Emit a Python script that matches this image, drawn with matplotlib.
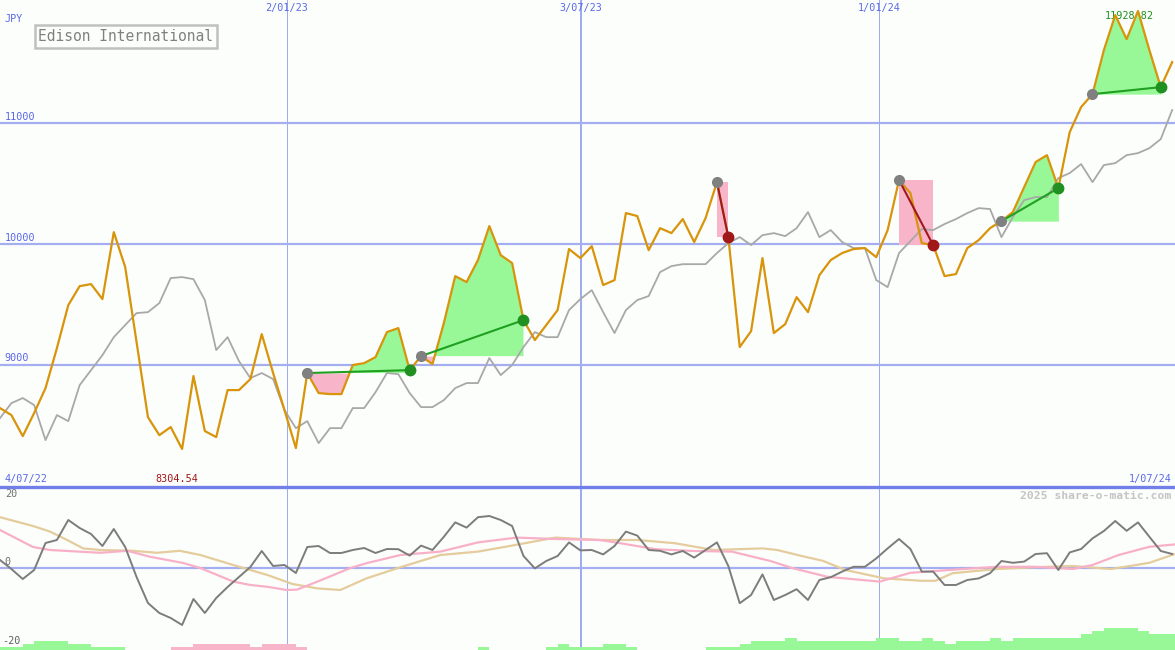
import numpy as np
import matplotlib.pyplot as plt
from matplotlib.transforms import blended_transform_factory
from matplotlib.lines import Line2D

# weekly closes (JPY), 4/07/22 .. 1/07/24
price = [8643, 8585, 8411, 8602, 8808, 9139, 9495, 9652, 9669, 9545,
         10099, 9810, 9189, 8568, 8419, 8486, 8304.54, 8908, 8453, 8403,
         8792, 8792, 8883, 9255, 8933, 8626, 8312, 8933, 8767, 8759,
         8759, 8999, 9015, 9065, 9272, 9305, 8957, 9073, 9007, 9346,
         9735, 9686, 9868, 10149, 9909, 9843, 9371, 9206, 9330, 9454,
         9959, 9884, 9983, 9661, 9702, 10257, 10232, 9950, 10132, 10091,
         10207, 10017, 10215, 10513, 10058, 9148, 9280, 9884, 9264, 9338,
         9561, 9437, 9743, 9868, 9926, 9959, 9967, 9892, 10116, 10530,
         10422, 10008, 9992, 9735, 9752, 9967, 10033, 10132, 10190, 10265,
         10472, 10679, 10736, 10463, 10927, 11134, 11241, 11605, 11895, 11696,
         11928.82, 11605, 11299, 11506]

# moving average (grey line)
avg = [8560, 8684, 8726, 8668, 8378, 8585, 8535, 8833, 8957, 9081,
       9230, 9330, 9429, 9437, 9512, 9719, 9727, 9710, 9537, 9123,
       9230, 9032, 8891, 8933, 8883, 8626, 8477, 8535, 8353, 8477,
       8477, 8643, 8643, 8775, 8933, 8924, 8767, 8651, 8651, 8709,
       8808, 8850, 8850, 9057, 8916, 8999, 9148, 9272, 9230, 9230,
       9454, 9545, 9619, 9437, 9264, 9454, 9537, 9570, 9768, 9818,
       9834, 9834, 9834, 9926, 10008, 10058, 9992, 10074, 10091, 10066,
       10132, 10265, 10058, 10116, 10017, 9967, 9967, 9702, 9644, 9926,
       10025, 10124, 10116, 10166, 10207, 10257, 10298, 10290, 10058, 10223,
       10364, 10389, 10389, 10546, 10588, 10662, 10513, 10654, 10670, 10736,
       10753, 10794, 10869, 11109]

# (start week, end week, direction)
signals = [(27, 36, 'up'), (37, 46, 'up'), (63, 64, 'down'),
           (79, 82, 'down'), (88, 93, 'up'), (96, 102, 'up')]

# lower panel: momentum
momentum = [2.0, -0.25, -2.75, -0.5, 6.25, 7, 12, 10, 8.5, 5.5,
            9.75, 5.25, -2.25, -8.75, -11.25, -12.5, -14.25, -7.75, -11.25, -7.5,
            -4.75, -2.25, 0.25, 4.25, 0.5, 0.75, -1.25, 5.25, 5.5, 3.75,
            3.75, 4.5, 5, 3.75, 4.75, 4.7, 3.1, 5.6, 4.5, 7.8,
            11.4, 10.1, 12.7, 13, 12, 10.5, 3, -0.1, 1.75, 3,
            6.4, 4.4, 4.5, 3.4, 5.5, 9.1, 8.1, 4.5, 4.3, 3.4,
            4.25, 2.6, 4.5, 6.4, 0.5, -8.8, -6.75, -1.6, -8, -6.75,
            -5.3, -8, -3, -2.3, -0.9, 0.3, 0.3, 2.4, 4.9, 7.25,
            4.75, -0.9, -0.9, -4.25, -4.25, -3, -2.6, -1.3, 1.75, 1.3,
            1.6, 3.5, 3.7, -0.5, 3.9, 4.75, 7.4, 9.25, 11.75, 9.3,
            11.4, 7.8, 4.25, 3.5]

pink_wk = [0, 2.9, 4.4, 8.8, 11.2, 13.2, 16.1, 17.6, 20.5, 22, 23.5, 25.2, 26.1,
           27.9, 29.3, 30.8, 32.2, 35.2, 38.7, 42, 45.4, 48.8, 52.7, 54.3, 57.6,
           61, 64.3, 67.7, 69.6, 72.7, 77.3, 80, 84.4, 87.6, 91, 94.3, 96, 98.3,
           101, 103.25]
pink_val = [9.5, 5.25, 4.5, 3.8, 4.3, 2.8, 1.25, 0, -3.4, -4.25, -4.7, -5.5, -5.4,
            -3.4, -1.75, 0, 1.2, 3.25, 4.1, 6.4, 7.6, 7.25, 7, 6.3, 4.7,
            4.25, 4.1, 1.75, 0, -2.2, -3.4, -1.2, -0.3, 0.3, 0.3, -0.25, 0.75, 3.25,
            5.3, 5.9]

tan_wk = [0, 2.9, 4.4, 5.9, 7.3, 8.8, 11.7, 13.8, 15.8, 17.6, 20.5, 23.5, 25.7,
          27.9, 29.9, 32.2, 35.2, 38.7, 42, 44.4, 48.8, 52.7, 56, 59.3, 62.7,
          67, 68.3, 70.3, 72.3, 74.3, 77.7, 81, 82.2, 83.7, 87.6, 91, 94.3, 97.6,
          99.3, 101, 103.25]
tan_val = [12.7, 10.5, 9.1, 7, 4.9, 4.5, 4.3, 3.8, 4.3, 3.25, 0.75, -1.75, -4,
           -5.1, -5.5, -2.6, 0.2, 3.25, 4.1, 5.3, 7.6, 7, 7, 6.2, 4.5,
           4.9, 4.5, 3.1, 1.8, -0.5, -2.6, -3.2, -3.2, -1.3, -0.25, 0.2, 0.5, -0.25,
           0.5, 1.3, 3.5]

# strength bars along the bottom (+ green, - pink)
strength = [1, 1, 2, 3, 3, 3, 2, 2, 1, 1, 1, 0, 0, 0, 0, -1, -1, -2, -2, -2,
            -2, -2, -1, -2, -2, -2, -1, 0, 0, 0, 0, 0, 0, 0, 0, 0, 0, 0, 0, 0,
            0, 0, 1, 0, 0, 0, 0, 0, 1, 2, 1, 1, 1, 2, 2, 1, 0, 0, 0, 0,
            0, 0, 1, 1, 1, 2, 3, 3, 3, 4, 3, 3, 3, 3, 3, 3, 3, 4, 4, 3,
            3, 4, 3, 2, 3, 3, 3, 4, 3, 4, 4, 4, 4, 4, 4, 5, 6, 7, 7, 7,
            6, 5, 5, 5]

date_pos = [25.2, 51.05, 77.25]
date_labels = ['2/01/23', '3/07/23', '1/01/24']
price_levels = [9000, 10000, 11000]

bg = '#fcfefc'
blue = '#5a68e8'
grid = '#a4aef0'
orange = '#d8940a'
green_fill = '#98f898'
pink_fill = '#f8b4c8'
mono = 'DejaVu Sans Mono'

price = np.array(price)
weeks = np.arange(len(price))

fig = plt.figure(figsize=(11.75, 6.5), dpi=100, facecolor=bg)
ax = fig.add_axes([0, 163 / 650, 1, 487 / 650])
ax2 = fig.add_axes([0, 0, 1, 163 / 650])
for a in (ax, ax2):
    a.set_facecolor(bg)
    a.set_xlim(0, 103.25)
    a.axis('off')
    for x, lw in zip(date_pos, [0.5, 1.1, 0.5]):
        a.axvline(x, color='#a0aaf2', lw=lw, zorder=1, antialiased=False)
ax.set_ylim(7990, 12020)
ax2.set_ylim(-20.5, 20.25)

# grid and labels on the price panel
tr = blended_transform_factory(ax.transAxes, ax.transData)
for lvl in price_levels:
    ax.axhline(lvl, color=grid, lw=1.6, zorder=1)
    ax.text(0.004, lvl + 12, str(lvl), transform=tr, color=blue,
            fontsize=7.3, family=mono, va='bottom', ha='left')
trx = blended_transform_factory(ax.transData, ax.transAxes)
for x, lab in zip(date_pos, date_labels):
    ax.text(x, 1 - 8 / 487, lab, transform=trx, color=blue, fontsize=7.3,
            family=mono, ha='center', va='center')
ax.text(0.004, 1 - 19 / 487, 'JPY', transform=ax.transAxes, color=blue,
        fontsize=7.3, family=mono, va='center')
ax.text(0.0325, 1 - 36.5 / 487, 'Edison International', transform=ax.transAxes,
        color='#808080', fontsize=10.5, family=mono, va='center',
        bbox=dict(boxstyle='square,pad=0.25', fc=bg, ec='#c0c0c0', lw=1.8))
ax.text(0.004, 8 / 487, '4/07/22', transform=ax.transAxes, color=blue,
        fontsize=7.3, family=mono, va='center')
ax.text(0.997, 8 / 487, '1/07/24', transform=ax.transAxes, color=blue,
        fontsize=7.3, family=mono, va='center', ha='right')
ax.text(0.132, 8 / 487, f'{price.min():.2f}', transform=ax.transAxes,
        color='#a01818', fontsize=7.3, family=mono, va='center')
ax.text(weeks[price.argmax()] - 0.8, price.max() - 40, f'{price.max():.2f}',
        color='#209020', fontsize=7.3, family=mono, va='center', ha='center',
        zorder=2)

# signal areas
for s, e, kind in signals:
    xs = weeks[s:e + 1]
    ys = price[s:e + 1]
    base = price[s]
    if kind == 'up':
        ax.fill_between(xs, ys, base, where=ys >= base, interpolate=True,
                        color=green_fill, lw=0, zorder=2)
        ax.fill_between(xs, ys, base, where=ys <= base, interpolate=True,
                        color=pink_fill, lw=0, zorder=2)
        lc, dc = '#20a020', '#209020'
    else:
        ax.fill_between([s, e], [base, base], [price[e], price[e]],
                        color=pink_fill, lw=0, zorder=2)
        lc, dc = '#a01820', '#a01818'
    ax.plot([s, e], [base, price[e]], color=lc, lw=1.5, zorder=4)
    ax.plot(s, base, 'o', color='#808080', ms=7, zorder=5)
    ax.plot(e, price[e], 'o', color=dc, ms=7.5, zorder=5)

ax.plot(weeks, avg, color='#a8a8a8', lw=1.3, zorder=3)
ax.plot(weeks, price, color=orange, lw=1.6, zorder=3)

# separator
fig.add_artist(Line2D([0, 1], [163 / 650, 163 / 650], color='#7080e8', lw=2.4))

# lower panel
ax2.axhline(0, color=grid, lw=1.6, zorder=1)
st = np.array(strength)
ax2.bar(weeks[st > 0], np.abs(st[st > 0]) * 0.78, bottom=-20.5, width=1,
        align='edge', color=green_fill, lw=0, zorder=2)
ax2.bar(weeks[st < 0], np.abs(st[st < 0]) * 0.78, bottom=-20.5, width=1,
        align='edge', color=pink_fill, lw=0, zorder=2)
ax2.plot(tan_wk, tan_val, color='#e4cc9c', lw=1.6, zorder=3)
ax2.plot(pink_wk, pink_val, color='#f8b0c8', lw=1.6, zorder=3)
ax2.plot(weeks, momentum, color='#7c7c7c', lw=1.4, zorder=4)

tr2 = blended_transform_factory(ax2.transAxes, ax2.transData)
ax2.text(0.004, 18.5, '20', transform=tr2, color='#707070', fontsize=7.3,
         family=mono, va='center')
ax2.text(0.004, 1.5, '0', transform=tr2, color='#707070', fontsize=7.3,
         family=mono, va='center')
ax2.text(0.002, -18.2, '-20', transform=tr2, color='#606060', fontsize=7.3,
         family=mono, va='center')
ax2.text(0.997, 1 - 9 / 163, '2025 share-o-matic.com', transform=ax2.transAxes,
         color='#c4c4c4', fontsize=8.2, family=mono, weight='bold',
         ha='right', va='center')

fig.savefig('out.png', dpi=100, facecolor=bg)
